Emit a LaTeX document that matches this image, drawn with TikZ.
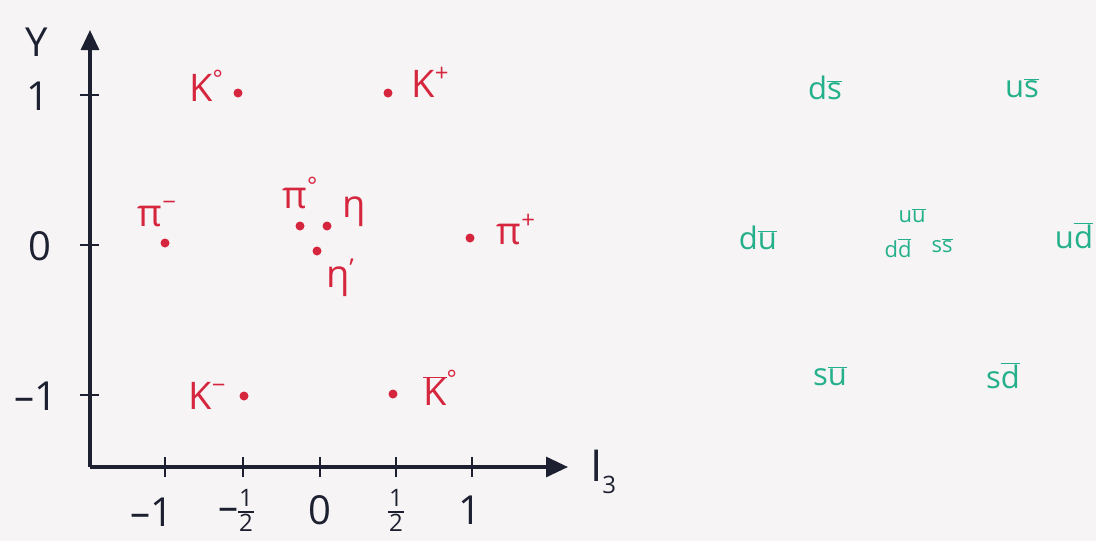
\documentclass[tikz,border=0pt]{standalone}
\usepackage{fontspec}
\setmainfont{Open Sans}
\usetikzlibrary{arrows.meta}
\definecolor{pred}{RGB}{214,38,62}
\definecolor{pgreen}{RGB}{36,176,138}
\definecolor{ink}{RGB}{28,32,48}
\definecolor{paper}{RGB}{246,244,245}
\newcommand\halfsym{{\setlength{\arrayrulewidth}{2pt}\setlength{\tabcolsep}{1pt}\fontsize{24}{24}\selectfont\begin{tabular}[c]{c}1\\[-3pt]\hline\rule{0pt}{19pt}2\end{tabular}}}
\newcommand\ob[1]{\ensuremath{\overline{\mbox{#1}}}}
\begin{document}
\begin{tikzpicture}[x=1pt,y=-1pt,
  axis/.style={draw=ink,line width=3.2pt},
  tickmark/.style={draw=ink,line width=2.6pt},
  num/.style={text=ink,font=\fontsize{40}{40}\selectfont,inner sep=0pt},
  part/.style={text=pred,font=\fontsize{38}{38}\selectfont,inner sep=0pt},
  pt/.style={circle,fill=pred,minimum size=9pt,inner sep=0pt},
  quark/.style={text=pgreen,font=\fontsize{31}{31}\selectfont,inner sep=0pt}]
\useasboundingbox (0,0) rectangle (1096,541);
\fill[paper] (0,0) rectangle (1096,541);
% axes
\coordinate (O) at (90,467);
\coordinate (Ytop) at (90,30);
\coordinate (Xend) at (568,467);
\draw[axis,-{Triangle[length=20pt,width=18pt]}] (O) -- (Ytop);
\draw[axis,-{Triangle[length=22pt,width=20pt]}] (O) -- (Xend);
% y ticks
\foreach \yy/\nm in {95/y1,245/y0,395/ym1}{
  \coordinate (\nm a) at (80,\yy); \coordinate (\nm b) at (99,\yy);
  \draw[tickmark] (\nm a) -- (\nm b);}
\node[num] (Ylab) at (37,42) {Y};
\node[num] (l1) at (38,96) {1};
\node[num] (l0) at (40,246) {0};
\node[num] (lm1) at (36,396) {–1};
% x ticks
\foreach \xx/\nm in {165/xm1,243/xmh,320/x0,396/xh,472/x1}{
  \coordinate (\nm a) at (\xx,457); \coordinate (\nm b) at (\xx,477);
  \draw[tickmark] (\nm a) -- (\nm b);}
\node[num] (tm1) at (152,512) {–1};
\node[num] (tmh) at (236,514) {–\halfsym};
\node[num] (t0) at (320,510) {0};
\node[num] (th) at (396,514) {\halfsym};
\node[num] (t1) at (470,510) {1};
\node[num] (I3) at (603,472) {\fontsize{44}{44}\selectfont I\raisebox{-12pt}{\fontsize{24}{24}\selectfont 3}};
% particles
\node[pt] (K0d) at (238,93) {};
\node[part] (K0) at (206,86) {K\raisebox{14pt}{\fontsize{24}{24}\selectfont °}};
\node[pt] (Kpd) at (388,93) {};
\node[part] (Kp) at (430,82) {K\raisebox{16pt}{\fontsize{24}{24}\selectfont +}};
\node[pt] (pimd) at (165,243) {};
\node[part] (pim) at (157,214) {π\raisebox{16pt}{\fontsize{24}{24}\selectfont −}};
\node[pt] (pi0d) at (300,226) {};
\node[pt] (etad) at (327,226) {};
\node[pt] (etapd) at (317,251) {};
\node[part] (pi0) at (300,193) {π\raisebox{14pt}{\fontsize{24}{24}\selectfont °}};
\node[part] (eta) at (354,212) {η};
\node[part] (etap) at (340,278) {η\raisebox{10pt}{\fontsize{26}{26}\selectfont '}};
\node[pt] (pipd) at (470,238) {};
\node[part] (pip) at (516,230) {π\raisebox{16pt}{\fontsize{24}{24}\selectfont +}};
\node[part] (Km) at (207,396) {K\raisebox{16pt}{\fontsize{24}{24}\selectfont −}};
\node[pt] (Kmd) at (244,396) {};
\node[pt] (Kb0d) at (393,394) {};
\node[part] (Kb0) at (440,388) {\ob{K}\raisebox{18pt}{\fontsize{24}{24}\selectfont °}};
% quark content
\node[quark] (ds) at (825,88) {d\ob{s}};
\node[quark] (us) at (1022,88) {u\ob{s}};
\node[quark] (du) at (758,238) {d\ob{u}};
\node[quark] (uu) at (912,216) {\fontsize{22}{22}\selectfont u\ob{u}};
\node[quark] (dd) at (898,248) {\fontsize{22}{22}\selectfont d\ob{d}};
\node[quark] (ss) at (942,246) {\fontsize{22}{22}\selectfont s\ob{s}};
\node[quark] (ud) at (1074,236) {u\ob{d}};
\node[quark] (su) at (830,376) {s\ob{u}};
\node[quark] (sd) at (1003,376) {s\ob{d}};
\end{tikzpicture}
\end{document}
